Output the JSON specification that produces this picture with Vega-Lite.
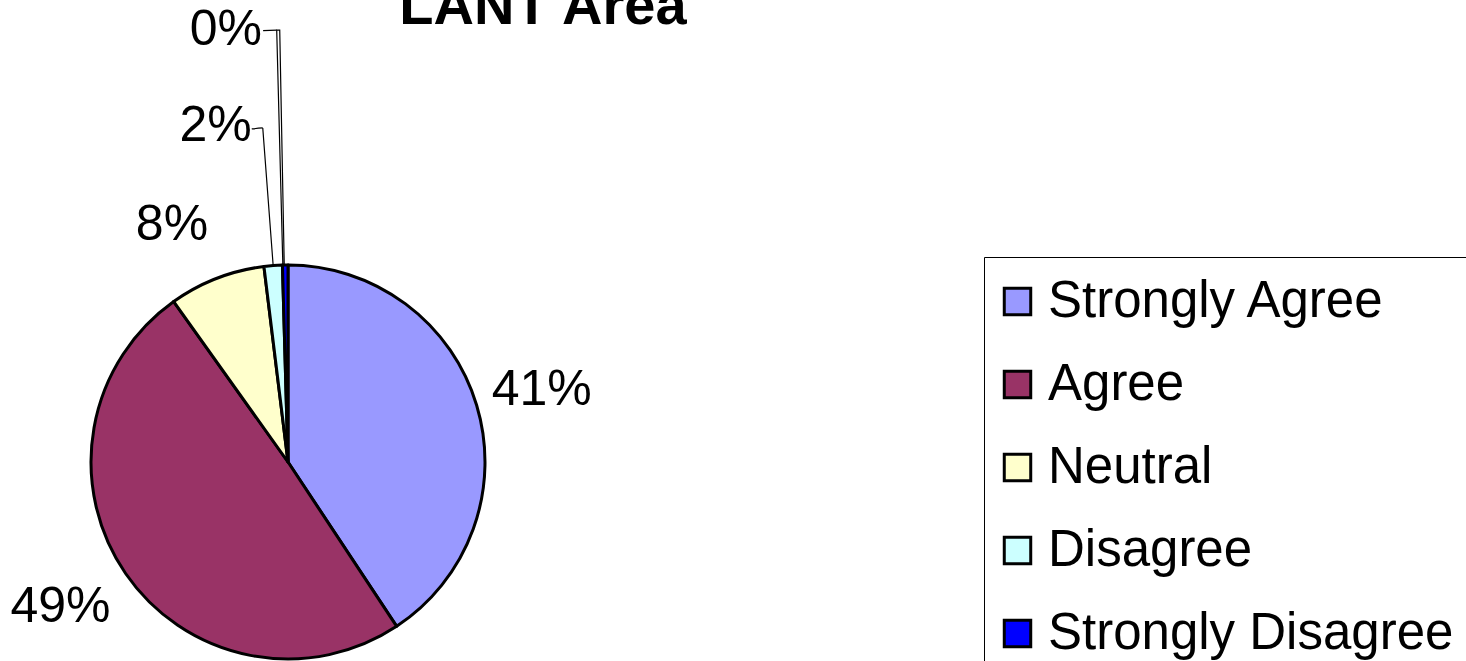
{
  "$schema": "https://vega.github.io/schema/vega-lite/v6.json",
  "autosize": {"type": "none"},
  "width": 394,
  "height": 394,
  "padding": {"left": 91, "top": 265, "right": 981, "bottom": 2},
  "background": "white",
  "config": {"view": {"stroke": null}, "font": "Liberation Sans"},
  "title": {
    "text": "LANT Area",
    "font": "Liberation Sans",
    "fontSize": 56,
    "fontWeight": "bold",
    "color": "black",
    "anchor": "middle",
    "frame": "group",
    "baseline": "alphabetic",
    "dx": 255,
    "dy": 25,
    "offset": -50
  },
  "data": {
    "values": [
      {"order": 1, "category": "Strongly Agree", "value": 40.7, "label": "41%"},
      {"order": 2, "category": "Agree", "value": 49.45, "label": "49%"},
      {"order": 3, "category": "Neutral", "value": 7.9, "label": "8%"},
      {"order": 4, "category": "Disagree", "value": 1.5, "label": "2%"},
      {"order": 5, "category": "Strongly Disagree", "value": 0.45, "label": "0%"}
    ]
  },
  "transform": [
    {"stack": "value", "groupby": [], "sort": [{"field": "order", "order": "ascending"}], "as": ["v0", "v1"]},
    {"calculate": "(datum.v0 + datum.v1) / 2", "as": "mid"}
  ],
  "layer": [
    {
      "mark": {"type": "arc", "radius": 197, "stroke": "black", "strokeWidth": 3, "strokeJoin": "round"},
      "encoding": {
        "theta": {"field": "v0", "type": "quantitative", "scale": {"domain": [0, 100]}},
        "theta2": {"field": "v1"},
        "color": {
          "field": "category",
          "type": "nominal",
          "sort": ["Strongly Agree", "Agree", "Neutral", "Disagree", "Strongly Disagree"],
          "scale": {
            "domain": ["Strongly Agree", "Agree", "Neutral", "Disagree", "Strongly Disagree"],
            "range": ["#9999FF", "#993366", "#FFFFCC", "#CCFFFF", "#0000FF"]
          },
          "legend": {
            "title": null,
            "orient": "none",
            "legendX": 893,
            "legendY": -8,
            "symbolType": "square",
            "symbolSize": 700,
            "symbolStrokeColor": "black",
            "symbolStrokeWidth": 3,
            "symbolOffset": -11,
            "labelFont": "Liberation Sans",
            "labelFontSize": 51,
            "labelColor": "black",
            "labelLimit": 1000,
            "labelOffset": 5,
            "rowPadding": 31,
            "padding": 19,
            "strokeColor": "black",
            "fillColor": "white"
          }
        }
      }
    },
    {
      "transform": [{"filter": "datum.order == 4"}],
      "mark": {"type": "arc", "radius": 335, "radius2": 197, "stroke": "black", "strokeWidth": 1.2, "fill": null},
      "encoding": {
        "theta": {"field": "mid", "type": "quantitative"},
        "theta2": {"field": "mid"}
      }
    },
    {
      "transform": [{"filter": "datum.order == 4"}],
      "mark": {"type": "arc", "radius": 335, "radius2": 335, "thetaOffset": -0.033, "stroke": "black", "strokeWidth": 1.2, "fill": null},
      "encoding": {
        "theta": {"field": "mid", "type": "quantitative"},
        "theta2": {"field": "mid"}
      }
    },
    {
      "transform": [{"filter": "datum.order == 5"}],
      "mark": {"type": "arc", "radius": 432, "radius2": 197, "thetaOffset": -0.012, "theta2Offset": -0.005, "stroke": "black", "strokeWidth": 1.2, "fill": null},
      "encoding": {
        "theta": {"field": "mid", "type": "quantitative"},
        "theta2": {"field": "mid"}
      }
    },
    {
      "transform": [{"filter": "datum.order == 5"}],
      "mark": {"type": "arc", "radius": 432, "radius2": 432, "thetaOffset": -0.0435, "theta2Offset": -0.012, "stroke": "black", "strokeWidth": 1.2, "fill": null},
      "encoding": {
        "theta": {"field": "mid", "type": "quantitative"},
        "theta2": {"field": "mid"}
      }
    },
    {
      "transform": [{"filter": "datum.order == 1"}],
      "mark": {"type": "text", "radius": 265, "dy": 4, "fontSize": 50, "font": "Liberation Sans", "color": "black"},
      "encoding": {"theta": {"field": "mid", "type": "quantitative"}, "text": {"field": "label"}}
    },
    {
      "transform": [{"filter": "datum.order == 2"}],
      "mark": {"type": "text", "radius": 265, "dx": -9, "dy": -5, "fontSize": 50, "font": "Liberation Sans", "color": "black"},
      "encoding": {"theta": {"field": "mid", "type": "quantitative"}, "text": {"field": "label"}}
    },
    {
      "transform": [{"filter": "datum.order == 3"}],
      "mark": {"type": "text", "radius": 265, "dx": -20, "dy": 10, "fontSize": 50, "font": "Liberation Sans", "color": "black"},
      "encoding": {"theta": {"field": "mid", "type": "quantitative"}, "text": {"field": "label"}}
    },
    {
      "transform": [{"filter": "datum.order == 4"}],
      "mark": {"type": "text", "radius": 335, "align": "right", "dx": -11, "dy": -2, "fontSize": 50, "font": "Liberation Sans", "color": "black"},
      "encoding": {"theta": {"field": "mid", "type": "quantitative"}, "text": {"field": "label"}}
    },
    {
      "transform": [{"filter": "datum.order == 5"}],
      "mark": {"type": "text", "radius": 432, "align": "right", "dx": -20, "fontSize": 50, "font": "Liberation Sans", "color": "black"},
      "encoding": {"theta": {"field": "mid", "type": "quantitative"}, "text": {"field": "label"}}
    }
  ]
}
